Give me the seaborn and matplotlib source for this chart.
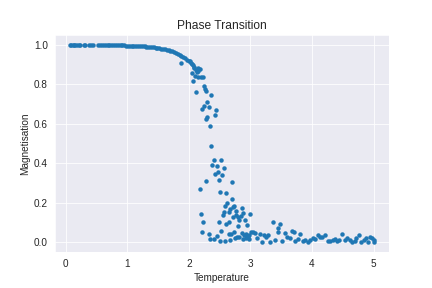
import matplotlib
matplotlib.use("Agg")
import matplotlib.pyplot as plt
import seaborn as sns
import pandas as pd

temperature = [
    0.07, 0.09, 0.11, 0.13, 0.15, 0.18, 0.21, 0.23, 0.29, 0.32, 0.38, 0.41, 0.44,
    0.53, 0.56, 0.59, 0.62, 0.65, 0.68, 0.71, 0.74, 0.77, 0.80, 0.83, 0.86, 0.89,
    0.92, 0.95, 0.98, 1.01, 1.04, 1.07, 1.10, 1.13, 1.16, 1.19, 1.22, 1.25, 1.28,
    1.31, 1.34, 1.37, 1.40, 1.43, 1.46, 1.49, 1.52, 1.55, 1.58, 1.61, 1.64, 1.67,
    1.70, 1.73, 1.76, 1.79, 1.82, 1.85, 1.88, 1.91, 1.94, 1.97, 2.00, 2.03, 2.06,
    2.09, 2.02, 2.05, 2.08, 2.12, 2.14, 2.15, 1.875,
    2.05, 2.10, 2.13, 2.155, 2.18, 2.20, 2.23, 2.07, 2.12, 2.25, 2.26, 2.27,
    2.21, 2.25, 2.29, 2.33, 2.365, 2.285, 2.30, 2.34, 2.42, 2.445,
    2.36, 2.375, 2.41, 2.46, 2.52, 2.43, 2.47, 2.54, 2.575, 2.49, 2.70, 2.28,
    2.18, 2.51, 2.61, 2.70, 2.59, 2.62, 2.72, 2.74, 2.67, 2.645, 2.77, 2.80,
    2.82, 2.845, 2.865, 2.88, 2.91, 2.99, 2.55, 2.57, 2.71, 2.76, 2.49, 2.60,
    2.655, 2.225, 2.79, 2.94, 2.20, 2.205, 2.33, 2.52, 2.645, 2.69, 2.74, 2.775,
    2.81, 2.86, 2.89, 2.92, 2.925, 2.94, 2.96, 2.98, 3.01, 3.04, 3.08,
    2.35, 2.41, 2.46, 2.505, 2.59, 2.67, 2.755, 2.88, 2.97, 3.10, 3.15, 3.19,
    3.22, 3.245, 3.29, 3.32, 3.37, 3.40, 3.44, 3.45, 3.48, 3.52, 3.56, 3.60,
    3.64, 3.67, 3.70, 3.73, 3.78, 3.80, 3.85, 3.89, 3.93, 3.97, 4.01, 4.05,
    4.095, 4.13, 4.165, 4.21, 4.26, 4.29, 4.34, 4.375, 4.41, 4.445, 4.49,
    4.535, 4.57, 4.61, 4.65, 4.69, 4.72, 4.76, 4.795, 4.84, 4.875, 4.91,
    4.945, 4.97, 5.0, 5.0,
]

magnetisation = [
    1.0, 1.0, 1.0, 1.0, 1.0, 1.0, 1.0, 1.0, 1.0, 1.0, 1.0, 1.0, 1.0,
    1.0, 1.0, 1.0, 1.0, 1.0, 1.0, 1.0, 1.0, 1.0, 1.0, 0.999, 0.999, 0.999,
    0.998, 0.998, 0.997, 0.997, 0.997, 0.996, 0.996, 0.995, 0.995, 0.994, 0.994, 0.993, 0.993,
    0.992, 0.991, 0.990, 0.989, 0.988, 0.987, 0.985, 0.984, 0.982, 0.980, 0.978, 0.976, 0.973,
    0.970, 0.967, 0.963, 0.959, 0.955, 0.950, 0.944, 0.938, 0.932, 0.926, 0.918, 0.910, 0.900,
    0.890, 0.920, 0.905, 0.885, 0.875, 0.885, 0.870, 0.907,
    0.857, 0.845, 0.862, 0.837, 0.879, 0.840, 0.840, 0.815, 0.764, 0.790, 0.778, 0.766,
    0.673, 0.692, 0.709, 0.687, 0.747, 0.625, 0.635, 0.588, 0.646, 0.668,
    0.490, 0.390, 0.416, 0.386, 0.419, 0.345, 0.357, 0.340, 0.374, 0.315, 0.305, 0.310,
    0.268, 0.253, 0.247, 0.217, 0.183, 0.197, 0.180, 0.185, 0.167, 0.155, 0.158, 0.130,
    0.113, 0.133, 0.172, 0.146, 0.113, 0.143, 0.138, 0.152, 0.130, 0.138, 0.104, 0.093,
    0.100, 0.100, 0.082, 0.088, 0.141, 0.050, 0.040, 0.057, 0.039, 0.042, 0.050, 0.025,
    0.025, 0.045, 0.037, 0.040, 0.020, 0.025, 0.028, 0.037, 0.049, 0.050, 0.045,
    0.015, 0.015, 0.032, 0.008, 0.005, 0.012, 0.022, 0.017, 0.015, 0.019, 0.040, 0.003,
    0.037, 0.025, 0.035, 0.003, 0.103, 0.012, 0.050, 0.070, 0.093, 0.007, 0.045, 0.025,
    0.020, 0.057, 0.049, 0.008, 0.015, 0.040, 0.008, 0.012, 0.003, 0.012, 0.020, 0.015,
    0.034, 0.024, 0.027, 0.034, 0.008, 0.008, 0.012, 0.017, 0.005, 0.012, 0.040,
    0.012, 0.020, 0.012, 0.003, 0.008, 0.020, 0.037, 0.003, 0.012, 0.020, 0.003,
    0.024, 0.019, 0.012, 0.000,
]

sns.set_style("darkgrid")
plt.rcParams["font.family"] = ["Liberation Sans", "DejaVu Sans"]

df = pd.DataFrame({"Temperature": temperature, "Magnetisation": magnetisation})

fig, ax = plt.subplots(figsize=(6, 4), dpi=72)
fig.subplots_adjust(left=0.127, right=0.9, top=0.878, bottom=0.125)
sns.scatterplot(data=df, x="Temperature", y="Magnetisation", ax=ax,
                s=20, linewidth=0, color="#1f77b4")
ax.set_title("Phase Transition")
ax.set_xlabel("Temperature")
ax.set_ylabel("Magnetisation")
fig.savefig("out.png", dpi=72)
